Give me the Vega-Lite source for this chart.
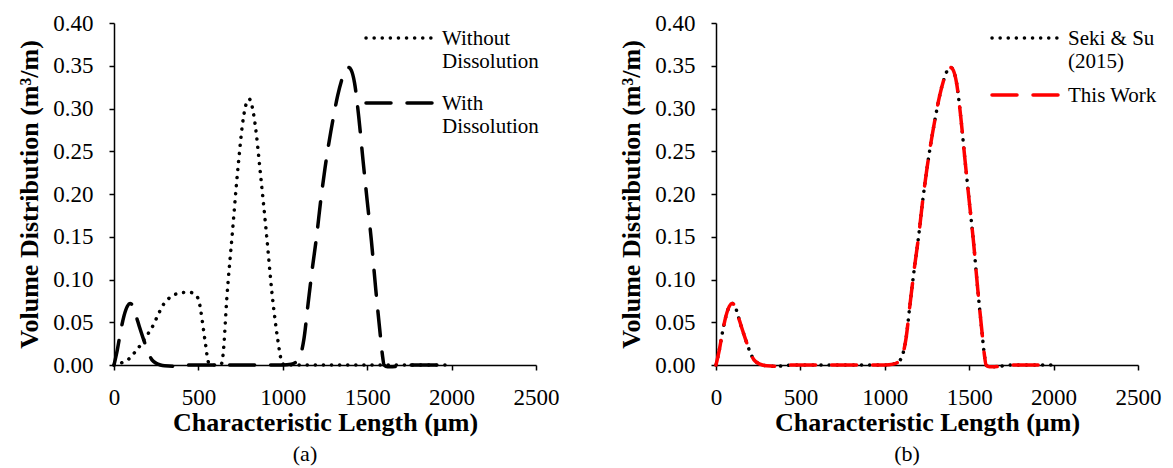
{
  "$schema": "https://vega.github.io/schema/vega-lite/v6.json",
  "background": "white",
  "padding": {"left": 16, "top": 12, "right": 5, "bottom": 5},
  "spacing": 59,
  "resolve": {"scale": {"strokeDash": "independent", "color": "independent"}},
  "datasets": {
    "a": [
      {"x": 0, "y": 0, "series": "Without Dissolution"},
      {"x": 25, "y": 0.001, "series": "Without Dissolution"},
      {"x": 50, "y": 0.003, "series": "Without Dissolution"},
      {"x": 85, "y": 0.0066, "series": "Without Dissolution"},
      {"x": 120, "y": 0.014, "series": "Without Dissolution"},
      {"x": 152, "y": 0.022, "series": "Without Dissolution"},
      {"x": 185, "y": 0.032, "series": "Without Dissolution"},
      {"x": 220, "y": 0.042, "series": "Without Dissolution"},
      {"x": 255, "y": 0.056, "series": "Without Dissolution"},
      {"x": 287, "y": 0.069, "series": "Without Dissolution"},
      {"x": 320, "y": 0.077, "series": "Without Dissolution"},
      {"x": 354, "y": 0.082, "series": "Without Dissolution"},
      {"x": 390, "y": 0.084, "series": "Without Dissolution"},
      {"x": 421, "y": 0.085, "series": "Without Dissolution"},
      {"x": 450, "y": 0.085, "series": "Without Dissolution"},
      {"x": 475, "y": 0.083, "series": "Without Dissolution"},
      {"x": 500, "y": 0.077, "series": "Without Dissolution"},
      {"x": 512, "y": 0.066, "series": "Without Dissolution"},
      {"x": 522, "y": 0.053, "series": "Without Dissolution"},
      {"x": 533, "y": 0.037, "series": "Without Dissolution"},
      {"x": 544, "y": 0.022, "series": "Without Dissolution"},
      {"x": 552, "y": 0.01, "series": "Without Dissolution"},
      {"x": 560, "y": 0.003, "series": "Without Dissolution"},
      {"x": 575, "y": 0, "series": "Without Dissolution"},
      {"x": 600, "y": 0, "series": "Without Dissolution"},
      {"x": 630, "y": 0, "series": "Without Dissolution"},
      {"x": 640, "y": 0.003, "series": "Without Dissolution"},
      {"x": 648, "y": 0.016, "series": "Without Dissolution"},
      {"x": 668, "y": 0.077, "series": "Without Dissolution"},
      {"x": 701, "y": 0.154, "series": "Without Dissolution"},
      {"x": 735, "y": 0.232, "series": "Without Dissolution"},
      {"x": 768, "y": 0.291, "series": "Without Dissolution"},
      {"x": 790, "y": 0.309, "series": "Without Dissolution"},
      {"x": 802, "y": 0.311, "series": "Without Dissolution"},
      {"x": 815, "y": 0.305, "series": "Without Dissolution"},
      {"x": 835, "y": 0.283, "series": "Without Dissolution"},
      {"x": 869, "y": 0.221, "series": "Without Dissolution"},
      {"x": 903, "y": 0.154, "series": "Without Dissolution"},
      {"x": 936, "y": 0.084, "series": "Without Dissolution"},
      {"x": 970, "y": 0.03, "series": "Without Dissolution"},
      {"x": 992, "y": 0.005, "series": "Without Dissolution"},
      {"x": 1010, "y": 0, "series": "Without Dissolution"},
      {"x": 1100, "y": 0, "series": "Without Dissolution"},
      {"x": 1200, "y": 0, "series": "Without Dissolution"},
      {"x": 1300, "y": 0, "series": "Without Dissolution"},
      {"x": 1400, "y": 0, "series": "Without Dissolution"},
      {"x": 1500, "y": 0, "series": "Without Dissolution"},
      {"x": 1600, "y": 0, "series": "Without Dissolution"},
      {"x": 1700, "y": 0, "series": "Without Dissolution"},
      {"x": 1800, "y": 0, "series": "Without Dissolution"},
      {"x": 1900, "y": 0, "series": "Without Dissolution"},
      {"x": 2000, "y": 0, "series": "Without Dissolution"},
      {"x": 0, "y": 0, "series": "With Dissolution"},
      {"x": 20, "y": 0.018, "series": "With Dissolution"},
      {"x": 40, "y": 0.04, "series": "With Dissolution"},
      {"x": 60, "y": 0.058, "series": "With Dissolution"},
      {"x": 80, "y": 0.069, "series": "With Dissolution"},
      {"x": 95, "y": 0.072, "series": "With Dissolution"},
      {"x": 110, "y": 0.07, "series": "With Dissolution"},
      {"x": 130, "y": 0.058, "series": "With Dissolution"},
      {"x": 150, "y": 0.045, "series": "With Dissolution"},
      {"x": 175, "y": 0.03, "series": "With Dissolution"},
      {"x": 200, "y": 0.016, "series": "With Dissolution"},
      {"x": 225, "y": 0.006, "series": "With Dissolution"},
      {"x": 250, "y": 0.002, "series": "With Dissolution"},
      {"x": 275, "y": 0, "series": "With Dissolution"},
      {"x": 300, "y": -0.001, "series": "With Dissolution"},
      {"x": 350, "y": -0.0015, "series": "With Dissolution"},
      {"x": 400, "y": -0.001, "series": "With Dissolution"},
      {"x": 450, "y": 0, "series": "With Dissolution"},
      {"x": 550, "y": 0, "series": "With Dissolution"},
      {"x": 650, "y": 0, "series": "With Dissolution"},
      {"x": 750, "y": 0, "series": "With Dissolution"},
      {"x": 850, "y": 0, "series": "With Dissolution"},
      {"x": 950, "y": 0, "series": "With Dissolution"},
      {"x": 1000, "y": 0, "series": "With Dissolution"},
      {"x": 1050, "y": 0.001, "series": "With Dissolution"},
      {"x": 1075, "y": 0.003, "series": "With Dissolution"},
      {"x": 1100, "y": 0.009, "series": "With Dissolution"},
      {"x": 1125, "y": 0.03, "series": "With Dissolution"},
      {"x": 1150, "y": 0.072, "series": "With Dissolution"},
      {"x": 1175, "y": 0.113, "series": "With Dissolution"},
      {"x": 1200, "y": 0.15, "series": "With Dissolution"},
      {"x": 1225, "y": 0.193, "series": "With Dissolution"},
      {"x": 1250, "y": 0.23, "series": "With Dissolution"},
      {"x": 1275, "y": 0.262, "series": "With Dissolution"},
      {"x": 1300, "y": 0.29, "series": "With Dissolution"},
      {"x": 1325, "y": 0.315, "series": "With Dissolution"},
      {"x": 1350, "y": 0.334, "series": "With Dissolution"},
      {"x": 1375, "y": 0.346, "series": "With Dissolution"},
      {"x": 1390, "y": 0.348, "series": "With Dissolution"},
      {"x": 1405, "y": 0.345, "series": "With Dissolution"},
      {"x": 1425, "y": 0.33, "series": "With Dissolution"},
      {"x": 1450, "y": 0.29, "series": "With Dissolution"},
      {"x": 1475, "y": 0.24, "series": "With Dissolution"},
      {"x": 1500, "y": 0.192, "series": "With Dissolution"},
      {"x": 1525, "y": 0.145, "series": "With Dissolution"},
      {"x": 1550, "y": 0.09, "series": "With Dissolution"},
      {"x": 1575, "y": 0.04, "series": "With Dissolution"},
      {"x": 1590, "y": 0.012, "series": "With Dissolution"},
      {"x": 1600, "y": 0, "series": "With Dissolution"},
      {"x": 1620, "y": -0.002, "series": "With Dissolution"},
      {"x": 1650, "y": -0.002, "series": "With Dissolution"},
      {"x": 1700, "y": -0.001, "series": "With Dissolution"},
      {"x": 1750, "y": 0, "series": "With Dissolution"},
      {"x": 1850, "y": 0, "series": "With Dissolution"},
      {"x": 2000, "y": 0, "series": "With Dissolution"}
    ],
    "b": [
      {"x": 0, "y": 0, "series": "Seki & Su (2015)"},
      {"x": 20, "y": 0.018, "series": "Seki & Su (2015)"},
      {"x": 40, "y": 0.04, "series": "Seki & Su (2015)"},
      {"x": 60, "y": 0.058, "series": "Seki & Su (2015)"},
      {"x": 80, "y": 0.069, "series": "Seki & Su (2015)"},
      {"x": 95, "y": 0.072, "series": "Seki & Su (2015)"},
      {"x": 110, "y": 0.07, "series": "Seki & Su (2015)"},
      {"x": 130, "y": 0.058, "series": "Seki & Su (2015)"},
      {"x": 150, "y": 0.045, "series": "Seki & Su (2015)"},
      {"x": 175, "y": 0.03, "series": "Seki & Su (2015)"},
      {"x": 200, "y": 0.016, "series": "Seki & Su (2015)"},
      {"x": 225, "y": 0.006, "series": "Seki & Su (2015)"},
      {"x": 250, "y": 0.002, "series": "Seki & Su (2015)"},
      {"x": 275, "y": 0, "series": "Seki & Su (2015)"},
      {"x": 300, "y": -0.001, "series": "Seki & Su (2015)"},
      {"x": 350, "y": -0.0015, "series": "Seki & Su (2015)"},
      {"x": 400, "y": -0.001, "series": "Seki & Su (2015)"},
      {"x": 450, "y": 0, "series": "Seki & Su (2015)"},
      {"x": 550, "y": 0, "series": "Seki & Su (2015)"},
      {"x": 650, "y": 0, "series": "Seki & Su (2015)"},
      {"x": 750, "y": 0, "series": "Seki & Su (2015)"},
      {"x": 850, "y": 0, "series": "Seki & Su (2015)"},
      {"x": 950, "y": 0, "series": "Seki & Su (2015)"},
      {"x": 1000, "y": 0, "series": "Seki & Su (2015)"},
      {"x": 1050, "y": 0.001, "series": "Seki & Su (2015)"},
      {"x": 1075, "y": 0.003, "series": "Seki & Su (2015)"},
      {"x": 1100, "y": 0.009, "series": "Seki & Su (2015)"},
      {"x": 1125, "y": 0.03, "series": "Seki & Su (2015)"},
      {"x": 1150, "y": 0.072, "series": "Seki & Su (2015)"},
      {"x": 1175, "y": 0.113, "series": "Seki & Su (2015)"},
      {"x": 1200, "y": 0.15, "series": "Seki & Su (2015)"},
      {"x": 1225, "y": 0.193, "series": "Seki & Su (2015)"},
      {"x": 1250, "y": 0.23, "series": "Seki & Su (2015)"},
      {"x": 1275, "y": 0.262, "series": "Seki & Su (2015)"},
      {"x": 1300, "y": 0.29, "series": "Seki & Su (2015)"},
      {"x": 1325, "y": 0.315, "series": "Seki & Su (2015)"},
      {"x": 1350, "y": 0.334, "series": "Seki & Su (2015)"},
      {"x": 1375, "y": 0.346, "series": "Seki & Su (2015)"},
      {"x": 1390, "y": 0.348, "series": "Seki & Su (2015)"},
      {"x": 1405, "y": 0.345, "series": "Seki & Su (2015)"},
      {"x": 1425, "y": 0.33, "series": "Seki & Su (2015)"},
      {"x": 1450, "y": 0.29, "series": "Seki & Su (2015)"},
      {"x": 1475, "y": 0.24, "series": "Seki & Su (2015)"},
      {"x": 1500, "y": 0.192, "series": "Seki & Su (2015)"},
      {"x": 1525, "y": 0.145, "series": "Seki & Su (2015)"},
      {"x": 1550, "y": 0.09, "series": "Seki & Su (2015)"},
      {"x": 1575, "y": 0.04, "series": "Seki & Su (2015)"},
      {"x": 1590, "y": 0.012, "series": "Seki & Su (2015)"},
      {"x": 1600, "y": 0, "series": "Seki & Su (2015)"},
      {"x": 1620, "y": -0.002, "series": "Seki & Su (2015)"},
      {"x": 1650, "y": -0.002, "series": "Seki & Su (2015)"},
      {"x": 1700, "y": -0.001, "series": "Seki & Su (2015)"},
      {"x": 1750, "y": 0, "series": "Seki & Su (2015)"},
      {"x": 1850, "y": 0, "series": "Seki & Su (2015)"},
      {"x": 2000, "y": 0, "series": "Seki & Su (2015)"},
      {"x": 0, "y": 0, "series": "This Work"},
      {"x": 20, "y": 0.018, "series": "This Work"},
      {"x": 40, "y": 0.04, "series": "This Work"},
      {"x": 60, "y": 0.058, "series": "This Work"},
      {"x": 80, "y": 0.069, "series": "This Work"},
      {"x": 95, "y": 0.072, "series": "This Work"},
      {"x": 110, "y": 0.07, "series": "This Work"},
      {"x": 130, "y": 0.058, "series": "This Work"},
      {"x": 150, "y": 0.045, "series": "This Work"},
      {"x": 175, "y": 0.03, "series": "This Work"},
      {"x": 200, "y": 0.016, "series": "This Work"},
      {"x": 225, "y": 0.006, "series": "This Work"},
      {"x": 250, "y": 0.002, "series": "This Work"},
      {"x": 275, "y": 0, "series": "This Work"},
      {"x": 300, "y": -0.001, "series": "This Work"},
      {"x": 350, "y": -0.0015, "series": "This Work"},
      {"x": 400, "y": -0.001, "series": "This Work"},
      {"x": 450, "y": 0, "series": "This Work"},
      {"x": 550, "y": 0, "series": "This Work"},
      {"x": 650, "y": 0, "series": "This Work"},
      {"x": 750, "y": 0, "series": "This Work"},
      {"x": 850, "y": 0, "series": "This Work"},
      {"x": 950, "y": 0, "series": "This Work"},
      {"x": 1000, "y": 0, "series": "This Work"},
      {"x": 1050, "y": 0.001, "series": "This Work"},
      {"x": 1075, "y": 0.003, "series": "This Work"},
      {"x": 1100, "y": 0.009, "series": "This Work"},
      {"x": 1125, "y": 0.03, "series": "This Work"},
      {"x": 1150, "y": 0.072, "series": "This Work"},
      {"x": 1175, "y": 0.113, "series": "This Work"},
      {"x": 1200, "y": 0.15, "series": "This Work"},
      {"x": 1225, "y": 0.193, "series": "This Work"},
      {"x": 1250, "y": 0.23, "series": "This Work"},
      {"x": 1275, "y": 0.262, "series": "This Work"},
      {"x": 1300, "y": 0.29, "series": "This Work"},
      {"x": 1325, "y": 0.315, "series": "This Work"},
      {"x": 1350, "y": 0.334, "series": "This Work"},
      {"x": 1375, "y": 0.346, "series": "This Work"},
      {"x": 1390, "y": 0.348, "series": "This Work"},
      {"x": 1405, "y": 0.345, "series": "This Work"},
      {"x": 1425, "y": 0.33, "series": "This Work"},
      {"x": 1450, "y": 0.29, "series": "This Work"},
      {"x": 1475, "y": 0.24, "series": "This Work"},
      {"x": 1500, "y": 0.192, "series": "This Work"},
      {"x": 1525, "y": 0.145, "series": "This Work"},
      {"x": 1550, "y": 0.09, "series": "This Work"},
      {"x": 1575, "y": 0.04, "series": "This Work"},
      {"x": 1590, "y": 0.012, "series": "This Work"},
      {"x": 1600, "y": 0, "series": "This Work"},
      {"x": 1620, "y": -0.002, "series": "This Work"},
      {"x": 1650, "y": -0.002, "series": "This Work"},
      {"x": 1700, "y": -0.001, "series": "This Work"},
      {"x": 1750, "y": 0, "series": "This Work"},
      {"x": 1850, "y": 0, "series": "This Work"},
      {"x": 2000, "y": 0, "series": "This Work"}
    ]
  },
  "config": {
    "view": {"stroke": null},
    "font": "Liberation Serif",
    "axis": {
      "domainColor": "black",
      "domainWidth": 1.5,
      "tickColor": "black",
      "tickWidth": 1.5,
      "tickSize": 5,
      "grid": false,
      "labelFont": "Liberation Serif",
      "labelFontSize": 23,
      "labelColor": "black",
      "titleFont": "Liberation Serif",
      "titleFontSize": 26,
      "titleFontWeight": "bold",
      "titleColor": "black"
    },
    "legend": {
      "labelFont": "Liberation Serif",
      "labelFontSize": 21,
      "labelColor": "black",
      "labelLimit": 300,
      "symbolType": "M -1.6,0 L 1.6,0",
      "symbolStrokeWidth": 3.5
    },
    "title": {"font": "Liberation Serif", "fontSize": 22, "fontWeight": "normal", "color": "black", "orient": "bottom", "offset": 9, "dx": -20}
  },
  "hconcat": [
    {
      "width": 422,
      "height": 342,
      "title": {"text": "(a)"},
      "data": {"name": "a"},
      "mark": {"type": "line", "interpolate": "monotone", "strokeWidth": 3.5, "strokeCap": "round"},
      "encoding": {
        "x": {"field": "x", "type": "quantitative", "scale": {"domain": [0, 2500], "nice": false},
          "axis": {"values": [0, 500, 1000, 1500, 2000, 2500], "format": "d", "title": "Characteristic Length (µm)", "labelPadding": 16, "titlePadding": 0, "labelFlush": false}},
        "y": {"field": "y", "type": "quantitative", "scale": {"domain": [0, 0.4], "nice": false},
          "axis": {"values": [0, 0.05, 0.1, 0.15, 0.2, 0.25, 0.3, 0.35, 0.4], "format": ".2f", "title": "Volume Distribution (m³/m)", "labelPadding": 16, "titlePadding": 10, "labelFlush": false}},
        "strokeDash": {"field": "series", "type": "nominal",
          "scale": {"domain": ["Without Dissolution", "With Dissolution"], "range": [[0.1, 8], [25, 16]]},
          "legend": {"title": null, "orient": "none", "legendX": 263, "legendY": -8, "symbolSize": 1806, "labelOffset": 19, "rowPadding": 8,
            "labelBaseline": "alphabetic",
            "encoding": {"labels": {"dy": {"value": 7}}, "symbols": {"strokeCap": {"value": "round"}}},
            "labelExpr": "datum.label == 'Without Dissolution' ? ['Without', 'Dissolution'] : ['With', 'Dissolution']"}},
        "color": {"value": "black"}
      }
    },
    {
      "width": 422,
      "height": 342,
      "title": {"text": "(b)"},
      "data": {"name": "b"},
      "mark": {"type": "line", "interpolate": "monotone", "strokeWidth": 3.5, "strokeCap": "round"},
      "encoding": {
        "x": {"field": "x", "type": "quantitative", "scale": {"domain": [0, 2500], "nice": false},
          "axis": {"values": [0, 500, 1000, 1500, 2000, 2500], "format": "d", "title": "Characteristic Length (µm)", "labelPadding": 16, "titlePadding": 0, "labelFlush": false}},
        "y": {"field": "y", "type": "quantitative", "scale": {"domain": [0, 0.4], "nice": false},
          "axis": {"values": [0, 0.05, 0.1, 0.15, 0.2, 0.25, 0.3, 0.35, 0.4], "format": ".2f", "title": "Volume Distribution (m³/m)", "labelPadding": 16, "titlePadding": 10, "labelFlush": false}},
        "strokeDash": {"field": "series", "type": "nominal",
          "scale": {"domain": ["Seki & Su (2015)", "This Work"], "range": [[0.1, 8], [25, 16]]},
          "legend": null},
        "color": {"field": "series", "type": "nominal",
          "scale": {"domain": ["Seki & Su (2015)", "This Work"], "range": ["black", "red"]},
          "legend": {"title": null, "orient": "none", "legendX": 287, "legendY": -8, "symbolSize": 1806, "labelOffset": 19, "rowPadding": 0,
            "labelBaseline": "alphabetic",
            "encoding": {"labels": {"dy": {"value": 7}}, "symbols": {"strokeCap": {"value": "round"}}},
            "symbolDash": {"expr": "datum.label == 'This Work' ? [25, 16] : [0.1, 8]"},
            "labelExpr": "datum.label == 'Seki & Su (2015)' ? ['Seki & Su', '(2015)'] : datum.label"}}
      }
    }
  ]
}
